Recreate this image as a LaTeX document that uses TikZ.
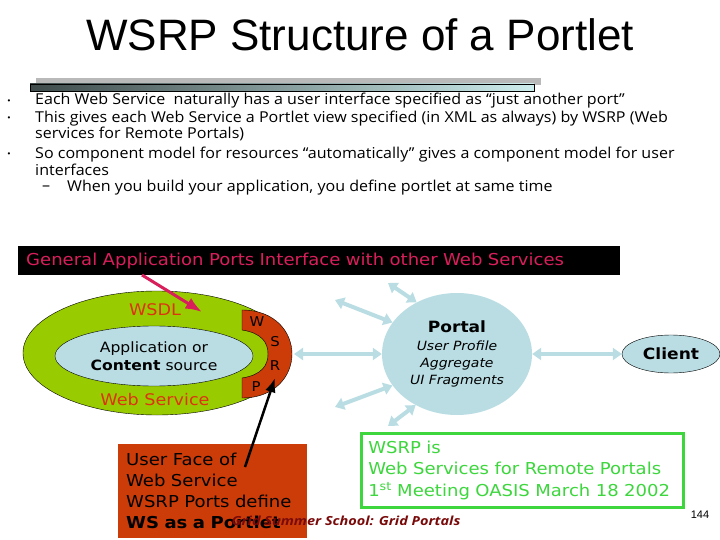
\documentclass[tikz,border=0pt]{standalone}
\usepackage{fontspec}
\setmainfont{Liberation Sans}
\newfontfamily\verd[FakeStretch=1.1]{DejaVu Sans}
\newfontfamily\hand[FakeStretch=1.07]{Open Sans}
\newfontfamily\handfoot[FakeStretch=1.16]{Open Sans}
\usetikzlibrary{arrows.meta, positioning, shapes.geometric}
\definecolor{portalblue}{HTML}{B9DDE3}
\definecolor{wsgreen}{HTML}{99CC00}
\definecolor{wsrporange}{HTML}{CC3C08}
\definecolor{labelorange}{HTML}{DD3311}
\definecolor{bannerpink}{HTML}{D81E5B}
\definecolor{boxgreen}{HTML}{3DD63D}
\definecolor{footred}{HTML}{7A0A0A}
\definecolor{bardark}{HTML}{3F4B4B}
\definecolor{barlight}{HTML}{CDEDED}

\begin{document}
\begin{tikzpicture}[x=1pt, y=-1pt, >=Latex,
  bulltext/.style={anchor=west, inner sep=0, font=\hand\fontsize{15}{16}\selectfont},
  dotmark/.style={anchor=center, inner sep=0, font=\fontsize{8}{8}\selectfont},
  wslabel/.style={inner sep=0, text=labelorange, font=\verd\fontsize{16}{18}\selectfont},
  letter/.style={inner sep=0, font=\verd\fontsize{13.5}{15}\selectfont},
  spoke/.style={draw=portalblue, line width=4pt, {Triangle[width=12pt,length=9pt]}-{Triangle[width=12pt,length=9pt]}}]
\useasboundingbox[fill=white] (0,0) rectangle (720,540);

% title and bar
\node[anchor=base, font=\fontsize{44}{50}\selectfont] (title) at (360,51) {WSRP Structure of a Portlet};
\fill[gray!55] (36,78) rectangle (541,85);
\shadedraw[left color=bardark, right color=barlight, draw=black, line width=0.8pt] (30,84) rectangle (534,91);

% bullets
\node[dotmark] (dot1) at (9,102) {•};
\node[dotmark] (dot2) at (9,119) {•};
\node[dotmark] (dot3) at (9,155) {•};
\node[bulltext] (b1) at (35,101) {Each Web Service\ \ naturally has a user interface specified as “just another port”};
\node[bulltext] (b2) at (35,119) {This gives each Web Service a Portlet view specified (in XML as always) by WSRP (Web};
\node[bulltext] (b2b) at (35,134) {services for Remote Portals)};
\node[bulltext] (b3) at (35,155) {So component model for resources “automatically” gives a component model for user};
\node[bulltext] (b3b) at (35,170) {interfaces};
\node[bulltext] (dash4) at (42,188) {–};
\node[bulltext] (b4) at (67,188) {When you build your application, you define portlet at same time};

% banner
\node[anchor=north west, fill=black, text=bannerpink, inner xsep=8pt, inner ysep=0,
  text width=586pt, minimum height=29pt, align=left,
  font=\verd\fontsize{16.4}{18}\selectfont] (banner) at (18,246)
  {General Application Ports Interface with other Web Services};

% web service
\node[ellipse, draw, thin, fill=wsgreen, minimum width=268pt, minimum height=124pt] (ws) at (157,353) {};
\node[ellipse, draw, thin, fill=portalblue, minimum width=198pt, minimum height=60pt, inner sep=0,
  align=center, font=\verd\fontsize{14.2}{18}\selectfont] (app) at (154,356)
  {Application or\\ \textbf{Content} source};
\node[wslabel] (wsdl) at (155,310) {WSDL};
\node[wslabel] (wsname) at (155,400) {Web Service};
\draw[thin, fill=wsrporange] (242,310) .. controls (275,310) and (292,332) .. (292,354)
  .. controls (292,376) and (275,398) .. (242,398) -- (242,378)
  .. controls (262,375) and (268,365) .. (268,354)
  .. controls (268,343) and (262,333) .. (242,330) -- cycle;
\node[letter] (lw) at (257,322) {W};
\node[letter] (ls) at (275,342) {S};
\node[letter] (lr) at (275,366) {R};
\node[letter] (lp) at (256,387) {P};

% portal and client
\node[ellipse, fill=portalblue, minimum width=150pt, minimum height=122pt, align=center,
  font=\verd\fontsize{12.7}{17}\selectfont] (portal) at (457,354)
  {{\bfseries\fontsize{15.5}{17}\selectfont Portal}\\[1pt] \itshape User Profile\\ \itshape Aggregate\\ \itshape UI Fragments};
\node[ellipse, draw, thin, fill=portalblue, minimum width=98pt, minimum height=38pt, inner sep=0,
  font=\verd\bfseries\fontsize{15.5}{17}\selectfont] (client) at (671,354) {Client};

\coordinate (wsrpEdge) at (294,354);
\coordinate (sUp) at (388,283);
\coordinate (sUpL) at (335,300);
\coordinate (sLowL) at (335,407);
\coordinate (sLow) at (388,426);
\draw[spoke] (wsrpEdge) -- (portal.west);
\draw[spoke] (portal.east) -- (client.west);
\draw[spoke] (sUp) -- (portal.128);
\draw[spoke] (sUpL) -- (portal.154);
\draw[spoke] (sLowL) -- (portal.206);
\draw[spoke] (sLow) -- (portal.231);

% pink pointer
\coordinate (bannerFoot) at (142,275);
\coordinate (wsdlTip) at (202,312);
\draw[->, bannerpink, line width=3pt] (bannerFoot) -- (wsdlTip);

% notes
\node[anchor=north west, fill=wsrporange, inner xsep=8pt, inner ysep=0, text width=173pt,
  minimum height=94pt, align=left, font=\verd\fontsize{16.4}{21}\selectfont] (face) at (118,444)
  {User Face of\\ Web Service\\ WSRP Ports define\\ \textbf{WS as a Portlet}};
\coordinate (faceFoot) at (245,467);
\coordinate (rTip) at (275,378);
\draw[->, line width=2.5pt] (faceFoot) -- (rTip);

\node[anchor=north west, draw=boxgreen, line width=2.5pt, text=boxgreen, inner xsep=7pt, inner ysep=0,
  text width=308pt, minimum height=74pt, align=left, font=\verd\fontsize{16.4}{21.5}\selectfont] (wsrpis) at (360,432)
  {WSRP is\\ Web Services for Remote Portals\\ 1\textsuperscript{st} Meeting OASIS March 18 2002};

\node[text=footred, inner sep=0, font=\handfoot\bfseries\itshape\fontsize{12.5}{14}\selectfont] (footer) at (346,521) {Grid Summer School: Grid Portals};
\node[inner sep=0, font=\fontsize{11}{13}\selectfont] (pagenum) at (700,515) {144};
\end{tikzpicture}
\end{document}
